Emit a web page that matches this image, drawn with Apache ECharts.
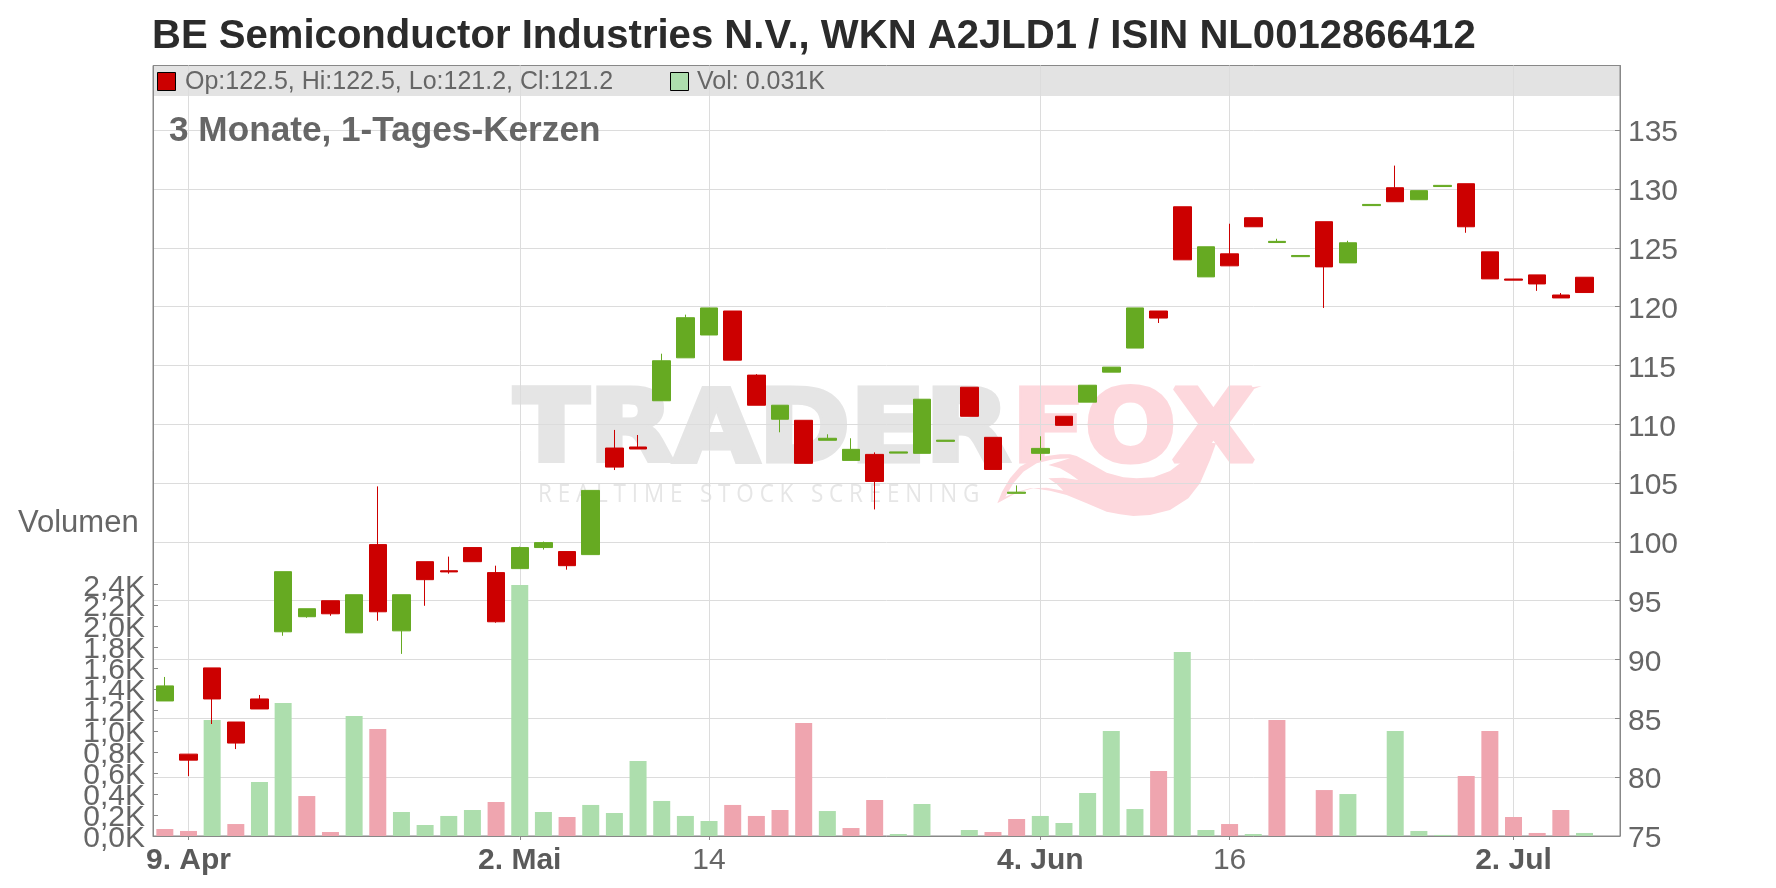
<!DOCTYPE html>
<html>
<head>
<meta charset="utf-8">
<style>html,body{margin:0;padding:0;background:#fff}#chart{width:1776px;height:888px}</style>
<script src="https://cdn.jsdelivr.net/npm/echarts@6/dist/echarts.min.js"></script>
</head>
<body>
<div id="chart"></div>
<script>
// tick labels sit on these slots, the last slot stays empty
const categories = [
  '', '9. Apr', '', '', '', '', '', '', '', '', '', '', '', '', '', '2. Mai',
  '', '', '', '', '', '', '', '14', '', '', '', '', '', '', '',
  '', '', '', '', '', '', '4. Jun', '', '', '', '', '', '', '', '16',
  '', '', '', '', '', '', '', '', '', '', '', '2. Jul', '', '', '', ''
];
const boldLabels = ['9. Apr', '2. Mai', '4. Jun', '2. Jul'];
const priceTicks = [75, 80, 85, 90, 95, 100, 105, 110, 115, 120, 125, 130, 135];
// two lists because ECharts drops end labels that touch their neighbour
const volumeTicksA = [0, 0.4, 0.8, 1.2, 1.6, 2.0, 2.4];
const volumeTicksB = [0.2, 0.6, 1.0, 1.4, 1.8, 2.2];

const opens = [86.48, 81.96, 89.29, 84.69, 86.65, 92.36, 93.64, 95, 92.27, 99.77, 92.44, 98.32, 97.55, 99.52, 97.39, 97.73,
  99.52, 99.18, 98.92, 107.98, 108.07, 112, 115.65, 117.59, 119.63, 114.18, 110.43, 110.34, 108.64, 106.93, 107.44,
  107.55, 107.53, 108.55, 113.15, 108.89, 104.13, 107.53, 110.68, 111.88, 114.43, 116.48, 119.63, 128.49, 122.53,
  124.49, 127.56, 125.45, 124.25, 127.22, 123.72, 128.59, 130.11, 129.09, 130.21, 130.45, 124.66, 122.35, 122.7, 120.99, 122.5];
const closes = [87.76, 81.45, 86.65, 82.9, 85.8, 97.47, 94.32, 93.89, 95.51, 94.06, 95.51, 96.79, 97.45, 98.32, 93.21, 99.52,
  99.94, 97.98, 104.38, 106.36, 107.9, 115.4, 119.06, 119.89, 115.45, 111.62, 111.62, 106.68, 108.81, 107.87, 105.14,
  107.65, 112.13, 108.65, 110.68, 106.16, 104.23, 107.95, 109.91, 113.32, 114.86, 119.89, 119.03, 123.98, 125.09,
  123.47, 126.79, 125.55, 124.35, 123.38, 125.43, 128.69, 128.92, 129.86, 130.31, 126.79, 122.36, 122.25, 121.93, 120.74, 121.2];
const lows = [86.48, 80.09, 84.52, 82.39, 85.8, 92.02, 93.55, 93.72, 92.27, 93.3, 90.48, 94.57, 97.3, 98.32, 93.13, 97.73,
  99.35, 97.64, 98.92, 106.11, 107.9, 112, 115.65, 117.59, 115.45, 111.62, 109.32, 106.68, 108.64, 106.93, 102.76,
  107.55, 107.53, 108.55, 110.68, 106.16, 104.13, 106.93, 109.91, 111.88, 114.43, 116.48, 118.61, 123.98, 122.53,
  123.47, 126.79, 125.45, 124.25, 119.89, 123.72, 128.59, 128.92, 129.09, 130.21, 126.28, 122.36, 122.25, 121.34, 120.74, 121.2];
const highs = [88.52, 81.96, 89.29, 84.69, 86.99, 97.47, 94.32, 95, 95.51, 104.72, 95.51, 98.32, 98.75, 99.52, 97.98, 99.6,
  100.03, 99.18, 104.38, 109.52, 109.09, 116, 119.32, 119.89, 119.63, 114.26, 111.62, 110.34, 109.15, 108.81, 107.61,
  107.65, 112.13, 108.65, 113.15, 108.89, 104.8, 108.98, 110.68, 113.32, 114.86, 119.89, 119.63, 128.49, 125.09,
  127.05, 127.56, 125.77, 124.35, 127.22, 125.6, 128.69, 131.99, 129.86, 130.31, 130.45, 124.66, 122.35, 122.7, 121.16, 122.5];

// volume in thousands, volumeUp: 1 = green bar, 0 = pink bar
const volumes = [0.067, 0.048, 1.106, 0.114, 0.515, 1.268, 0.381, 0.038, 1.144, 1.02, 0.229, 0.105, 0.191, 0.248, 0.324, 2.393,
  0.229, 0.181, 0.296, 0.219, 0.715, 0.334, 0.191, 0.143, 0.296, 0.191, 0.248, 1.077, 0.238, 0.076, 0.343,
  0.019, 0.305, 0, 0.057, 0.038, 0.162, 0.191, 0.124, 0.41, 1.0, 0.257, 0.62, 1.754, 0.057,
  0.114, 0.019, 1.106, 0, 0.438, 0.4, 0, 1.0, 0.048, 0.01, 0.572, 1.0, 0.181, 0.029, 0.248, 0.029];
const volumeUp = [0, 0, 1, 0, 1, 1, 0, 0, 1, 0, 1, 1, 1, 1, 0, 1,
  1, 0, 1, 1, 1, 1, 1, 1, 0, 0, 0, 0, 1, 0, 0,
  1, 1, 1, 1, 0, 0, 1, 1, 1, 1, 1, 0, 1, 1,
  0, 1, 0, 1, 0, 1, 1, 1, 1, 1, 0, 0, 0, 0, 0, 1];

const myChart = echarts.init(document.getElementById('chart'));
const font = '"Liberation Sans", Arial, sans-serif';
const GREEN = '#66aa22';
const RED = '#cc0000';
const PINK = '#fdd8dd';
const GREY_LOGO = '#e5e5e5';

const candleData = opens.map((o, i) => [o, closes[i], lows[i], highs[i]]);
const volumeData = volumes.map((v, i) => ({
  value: v,
  itemStyle: { color: volumeUp[i] ? '#addead' : '#efa5af' }
}));
const hasLabel = (i, v) => v !== '';

const volumeAxis = ticks => ({
  type: 'value', position: 'left', min: 0, max: 7.345,
  axisLine: { show: true, lineStyle: { color: '#888', width: 1 } },
  axisTick: { show: true, inside: true, length: 5, customValues: ticks, lineStyle: { color: '#888' } },
  splitLine: { show: false },
  axisLabel: {
    margin: 8, color: '#666', fontFamily: font, fontSize: 30,
    verticalAlign: 'top', lineHeight: 6, customValues: ticks,
    formatter: v => v.toFixed(1).replace('.', ',') + 'K'
  }
});

// logo swoosh outlines, measured in a 3x crop that starts at 980,370
const toPage = pts => pts.map(p => [980 + p[0] / 3, 370 + p[1] / 3]);
const tailOutline = [[52, 400], [66, 365], [90, 325], [120, 290], [160, 268], [200, 258], [240, 253], [270, 253], [290, 258],
  [330, 280], [380, 308], [430, 322], [470, 325], [520, 322], [570, 303], [620, 265], [660, 215], [708, 220], [690, 270],
  [660, 340], [625, 385], [570, 420], [510, 435], [460, 438], [420, 433], [380, 425], [320, 400], [260, 375], [210, 362],
  [160, 355], [110, 368]];
const tailHole = [[76, 380], [100, 340], [130, 305], [170, 280], [220, 268], [270, 265], [205, 285], [240, 295], [270, 312],
  [295, 330], [250, 323], [205, 325], [230, 342], [250, 362], [200, 353], [150, 355], [110, 366]];
const xTail = [[700, 125], [720, 95], [750, 70], [790, 55], [845, 48], [800, 65], [770, 90], [742, 145]];

const option = {
  animation: false,
  backgroundColor: '#fff',
  title: [
    {
      text: 'BE Semiconductor Industries N.V., WKN A2JLD1 / ISIN NL0012866412',
      left: 147, top: 12,
      textStyle: { fontFamily: font, fontSize: 40.1, fontWeight: 'bold', color: '#2b2b2b' }
    },
    {
      text: '3 Monate, 1-Tages-Kerzen',
      left: 164, top: 109,
      textStyle: { fontFamily: font, fontSize: 35.2, fontWeight: 'bold', color: '#666' }
    }
  ],
  grid: {
    show: true, left: 153, right: 156, top: 65.5, bottom: 52,
    borderColor: '#888', borderWidth: 1
  },
  xAxis: {
    type: 'category',
    data: categories,
    axisLine: { show: true, lineStyle: { color: '#888', width: 1 } },
    axisTick: { show: true, alignWithLabel: true, interval: hasLabel, length: 4, lineStyle: { color: '#888' } },
    splitLine: { show: true, alignWithLabel: true, interval: hasLabel, lineStyle: { color: '#dcdcdc', width: 1 } },
    axisLabel: {
      show: true, interval: hasLabel, margin: 10,
      color: '#666', fontFamily: font, fontSize: 30,
      formatter: v => (boldLabels.includes(v) ? '{b|' + v + '}' : v),
      rich: { b: { fontFamily: font, fontSize: 30, fontWeight: 'bold', color: '#5a5a5a' } }
    }
  },
  yAxis: [
    {
      type: 'value', position: 'right', min: 75, max: 140.5,
      axisLine: { show: true, lineStyle: { color: '#888', width: 1 } },
      axisTick: { show: true, inside: true, length: 5, customValues: priceTicks, lineStyle: { color: '#888' } },
      splitLine: { show: true, lineStyle: { color: '#dcdcdc', width: 1 } },
      axisLabel: {
        margin: 8, color: '#666', fontFamily: font, fontSize: 30,
        verticalAlign: 'top', lineHeight: 6, customValues: priceTicks
      }
    },
    volumeAxis(volumeTicksA),
    volumeAxis(volumeTicksB)
  ],
  series: [
    {
      type: 'bar', yAxisIndex: 1, barWidth: 17, data: volumeData, z: 2
    },
    {
      type: 'candlestick', yAxisIndex: 0, barWidth: 18, data: candleData, z: 3,
      itemStyle: { color: GREEN, color0: RED, borderColor: GREEN, borderColor0: RED, borderWidth: 1 }
    }
  ],
  graphic: [
    // header band and watermark stay behind the grid lines
    { type: 'rect', z: -10, shape: { x: 153, y: 65.5, width: 1467, height: 30.5 }, style: { fill: '#e3e3e3' } },
    { type: 'text', z: -10, x: 514, y: 435, scaleX: 1.1, style: { text: 'TRADER', fill: GREY_LOGO, stroke: GREY_LOGO, lineWidth: 5, font: 'bold 100px "DejaVu Sans"', textVerticalAlign: 'middle' } },
    { type: 'text', z: -10, x: 1012, y: 435, scaleX: 1.07, style: { text: 'FOX', fill: PINK, stroke: PINK, lineWidth: 5, font: 'bold 100px "DejaVu Sans"', textVerticalAlign: 'middle' } },
    { type: 'polygon', z: -10, shape: { points: toPage(tailOutline) }, style: { fill: PINK } },
    { type: 'polygon', z: -9, shape: { points: toPage(tailHole) }, style: { fill: '#fff' } },
    { type: 'polygon', z: -10, shape: { points: toPage(xTail) }, style: { fill: PINK } },
    { type: 'text', z: -10, x: 538, y: 495, scaleX: 0.864, style: { text: 'R E A L T I M E   S T O C K   S C R E E N I N G', fill: '#e6e6e6', font: '26px "Open Sans"', textVerticalAlign: 'middle' } },
    // legend row in the header
    { type: 'rect', z: 10, shape: { x: 157.5, y: 72.5, width: 18, height: 18 }, style: { fill: RED, stroke: '#000', lineWidth: 1 } },
    { type: 'text', z: 10, x: 185, y: 82, style: { text: 'Op:122.5, Hi:122.5, Lo:121.2, Cl:121.2', fill: '#666', font: '25px "Liberation Sans"', textVerticalAlign: 'middle' } },
    { type: 'rect', z: 10, shape: { x: 670.5, y: 72.5, width: 18, height: 18 }, style: { fill: '#addead', stroke: '#000', lineWidth: 1 } },
    { type: 'text', z: 10, x: 697, y: 82, style: { text: 'Vol: 0.031K', fill: '#666', font: '25px "Liberation Sans"', textVerticalAlign: 'middle' } },
    { type: 'text', z: 10, x: 18, y: 523, style: { text: 'Volumen', fill: '#666', font: '31px "Liberation Sans"', textVerticalAlign: 'middle' } }
  ]
};
myChart.setOption(option);
</script>
</body>
</html>
